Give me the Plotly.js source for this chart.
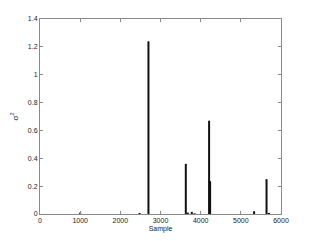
<!DOCTYPE html>
<html><head><meta charset="utf-8">
<script src="https://cdn.plot.ly/plotly-3.0.1.min.js"></script>
<style>html,body{margin:0;padding:0;background:#fff}#c{width:310px;height:241px}</style>
</head><body><div id="c"></div>
<script>
const samples = [1000, 2480, 2700, 3630, 3680, 3780, 3850, 4210, 4225, 4235, 5330, 5640, 5700];
const values  = [0.01, 0.008, 1.24, 0.36, 0.01, 0.015, 0.005, 0.67, 0.235, 0.235, 0.02, 0.25, 0.008];
const xTicks = [0, 1000, 2000, 3000, 4000, 5000, 6000];
const yTicks = [0, 0.2, 0.4, 0.6, 0.8, 1, 1.2, 1.4];

const sx = [], sy = [];
samples.forEach((s, i) => { sx.push(s, s, null); sy.push(0, values[i], null); });

const axisCommon = {
  showline: true, linecolor: '#8a8a8a', linewidth: 1, mirror: 'ticks',
  ticks: 'inside', ticklen: 3, tickcolor: '#8a8a8a', showgrid: false,
  tickfont: {family: 'Liberation Sans, Arial, sans-serif', size: 7, color: '#222'}
};

Plotly.newPlot('c', [{
  x: sx, y: sy, type: 'scatter', mode: 'lines',
  line: {color: '#111', width: 2}, hoverinfo: 'skip', showlegend: false
}], {
  width: 310, height: 241,
  margin: {l: 40, r: 29, t: 19, b: 27},
  paper_bgcolor: '#fff', plot_bgcolor: '#fff',
  xaxis: Object.assign({}, axisCommon, {
    range: [0, 6000], tickvals: xTicks, ticktext: xTicks.map(String), zeroline: false,
    title: {text: 'Sample', standoff: 2, font: {family: 'Liberation Sans, Arial, sans-serif', size: 7, color: '#222'}}
  }),
  yaxis: Object.assign({}, axisCommon, {
    range: [0, 1.4], tickvals: yTicks, ticktext: yTicks.map(String),
    zeroline: true, zerolinecolor: '#333', zerolinewidth: 1.5,
    title: {text: 'σ<sup>2</sup>', standoff: 8, font: {family: 'Liberation Sans, Arial, sans-serif', size: 8, color: '#222'}}
  })
}, {staticPlot: true});
</script></body></html>
